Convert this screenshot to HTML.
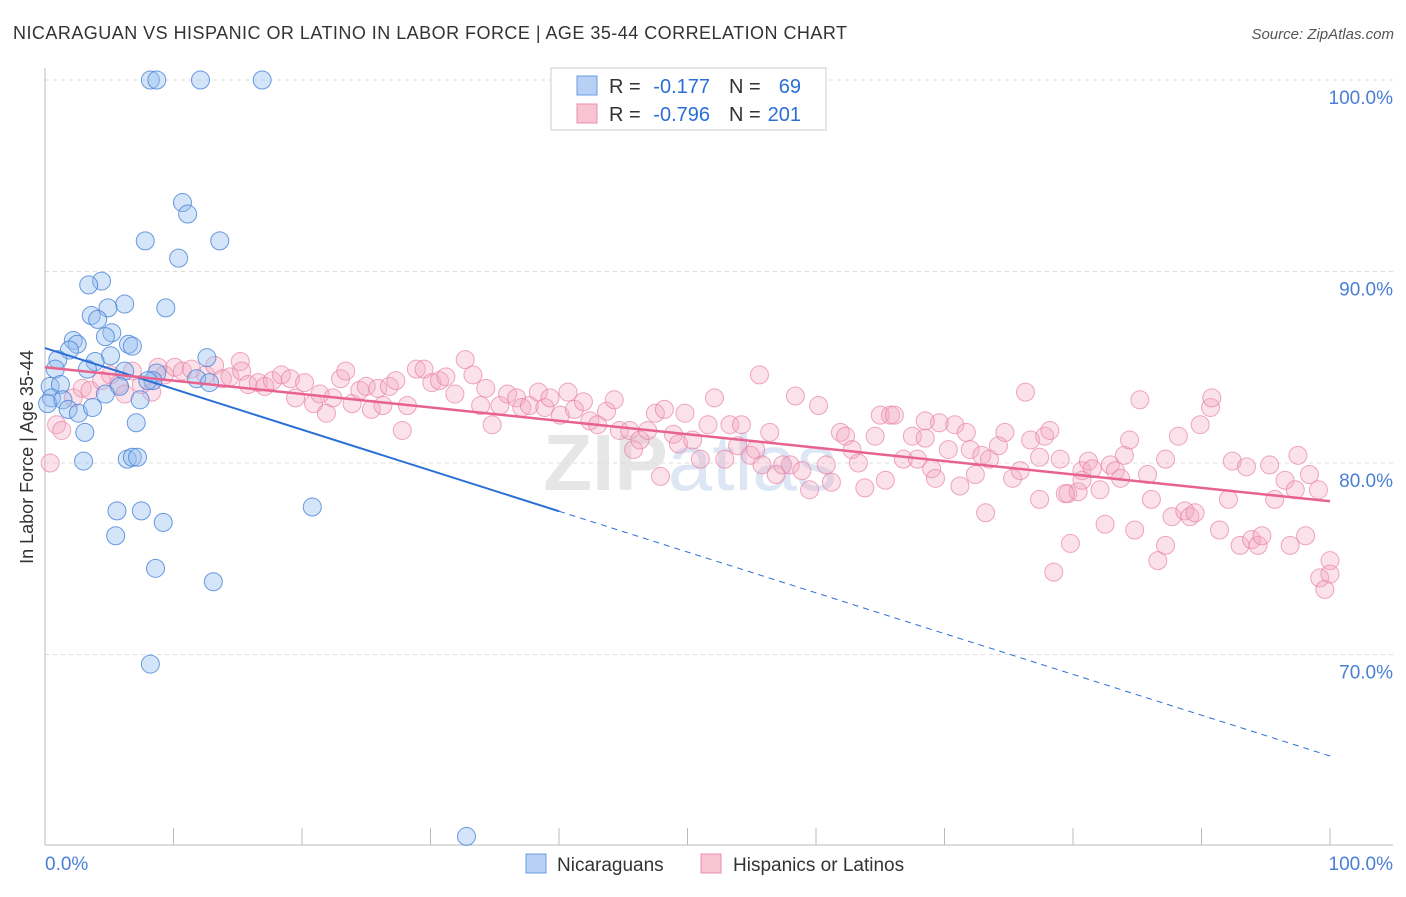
<!DOCTYPE html>
<html><head><meta charset="utf-8"><style>
body{margin:0;background:#fff;font-family:"Liberation Sans",sans-serif;}
svg text{font-family:"Liberation Sans",sans-serif;}
</style></head><body>
<svg id="chart" width="1406" height="892" xmlns="http://www.w3.org/2000/svg">
<text x="13" y="39" font-size="18" fill="#333" textLength="834" lengthAdjust="spacing">NICARAGUAN VS HISPANIC OR LATINO IN LABOR FORCE | AGE 35-44 CORRELATION CHART</text>
<text x="1394" y="39" font-size="15" fill="#555" text-anchor="end" font-style="italic">Source: ZipAtlas.com</text>
<text x="690" y="490" font-size="80" fill="#e6e6e6" text-anchor="middle" font-family="Liberation Serif" font-weight="bold">ZIP<tspan fill="#dce6f4" font-family="Liberation Sans" font-weight="normal">atlas</tspan></text>
<g id="grid"></g>
<g id="axes"></g>
<g id="pts"></g>
<g id="lines"></g>
<text transform="translate(33,457) rotate(-90)" font-size="18" fill="#333" text-anchor="middle">In Labor Force | Age 35-44</text>
<g>
<rect x="551" y="68" width="275" height="62" fill="#fff" stroke="#ccc"/>
<rect x="577" y="76" width="20" height="19" fill="#b7d0f3" stroke="#6b9be0"/>
<rect x="577" y="104" width="20" height="19" fill="#f8c3d3" stroke="#eb8fae"/>
<text x="609" y="93" font-size="20" fill="#333">R =</text>
<text x="710" y="93" font-size="20" fill="#2a6fd6" text-anchor="end">-0.177</text>
<text x="729" y="93" font-size="20" fill="#333">N =</text>
<text x="801" y="93" font-size="20" fill="#2a6fd6" text-anchor="end">69</text>
<text x="609" y="121" font-size="20" fill="#333">R =</text>
<text x="710" y="121" font-size="20" fill="#2a6fd6" text-anchor="end">-0.796</text>
<text x="729" y="121" font-size="20" fill="#333">N =</text>
<text x="801" y="121" font-size="20" fill="#2a6fd6" text-anchor="end">201</text>
</g>
<g>
<rect x="526" y="854" width="20" height="19" fill="#b7d0f3" stroke="#6b9be0"/>
<text x="557" y="871" font-size="19" fill="#333">Nicaraguans</text>
<rect x="701" y="854" width="20" height="19" fill="#f8c3d3" stroke="#eb8fae"/>
<text x="733" y="871" font-size="19" fill="#333">Hispanics or Latinos</text>
</g>
</svg>
<script>
const blueX=[8.2,8.7,12.1,16.9,10.7,11.1,7.8,13.6,10.4,4.4,3.4,6.2,4.9,9.4,3.6,4.1,5.2,4.7,6.5,6.8,2.2,2.5,1.9,1.0,5.1,3.9,12.6,0.8,3.3,6.2,8.7,8.4,11.8,12.8,0.4,1.2,5.8,8.0,4.7,7.4,0.5,0.2,1.4,1.8,2.6,3.7,7.1,3.1,6.4,6.8,7.2,3.0,20.8,5.6,7.5,9.2,5.5,8.6,13.1,8.2,32.8];
const blueY=[100,100,100,100,93.6,93.0,91.6,91.6,90.7,89.5,89.3,88.3,88.1,88.1,87.7,87.5,86.8,86.6,86.2,86.1,86.4,86.2,85.9,85.4,85.6,85.3,85.5,84.9,84.9,84.8,84.7,84.3,84.4,84.2,84.0,84.1,84.0,84.3,83.6,83.3,83.4,83.1,83.3,82.8,82.6,82.9,82.1,81.6,80.2,80.3,80.3,80.1,77.7,77.5,77.5,76.9,76.2,74.5,73.8,69.5,60.5];
const pinkX=[0.4,0.9,1.3,2.2,2.9,3.5,4.4,5.1,5.7,6.2,6.8,7.5,8.3,8.8,9.3,10.1,10.7,11.4,12.5,13.2,13.8,14.4,15.2,15.3,15.8,16.6,17.1,17.7,18.4,19.1,19.5,20.2,20.9,21.4,21.9,22.4,23.0,23.4,23.9,24.5,25.0,25.4,25.9,26.3,26.8,27.3,27.8,28.2,28.9,29.5,30.1,30.7,31.2,31.9,32.7,33.3,33.9,34.3,34.8,35.4,36.0,36.7,37.1,37.7,38.4,38.9,39.3,40.1,40.7,41.2,41.9,42.4,43.0,43.7,44.3,44.7,45.5,45.8,46.3,46.9,47.5,47.9,48.2,48.9,49.3,49.8,50.4,51.0,51.6,52.1,52.9,53.3,53.9,54.2,54.9,55.3,55.8,56.4,56.9,57.4,58.0,58.4,58.9,59.5,60.2,60.8,61.2,61.9,62.3,62.8,63.3,63.8,64.6,65.0,65.4,65.8,66.1,66.8,67.5,67.9,68.5,69.0,69.3,69.6,70.3,70.8,71.2,71.7,72.0,72.4,72.9,73.5,74.2,74.7,75.3,75.9,76.3,76.7,77.4,77.8,78.2,79.0,79.6,79.8,80.4,80.7,81.2,81.5,82.1,82.5,82.9,83.3,83.7,84.0,84.4,84.8,85.2,85.8,86.1,86.6,87.2,87.7,88.2,88.7,89.1,89.5,89.9,90.7,90.8,91.4,92.1,92.4,93.0,93.5,93.9,94.4,94.7,95.3,95.7,96.5,96.9,97.5,98.1,98.4,99.1,99.2,99.6,100.0,78.5,79.4,80.7,68.5,55.6,100.0,97.3,77.4,73.2,87.2];
const pinkY=[80.0,82.0,81.7,83.4,83.9,83.8,84.3,84.6,84.1,83.6,84.8,84.1,83.7,85.0,84.6,85.0,84.8,84.9,84.6,85.1,84.4,84.5,85.3,84.8,84.1,84.2,84.0,84.3,84.6,84.4,83.4,84.2,83.1,83.6,82.6,83.4,84.4,84.8,83.1,83.8,84.0,82.8,83.9,83.0,84.0,84.3,81.7,83.0,84.9,84.9,84.2,84.3,84.5,83.6,85.4,84.6,83.0,83.9,82.0,83.0,83.6,83.4,82.9,83.0,83.7,82.9,83.4,82.5,83.7,82.8,83.2,82.2,82.0,82.7,83.3,81.7,81.7,80.7,81.2,81.7,82.6,79.3,82.8,81.5,81.0,82.6,81.2,80.2,82.0,83.4,80.2,82.0,80.9,82.0,80.4,80.7,79.9,81.6,79.4,79.9,79.9,83.5,79.6,78.6,83.0,79.9,79.0,81.6,81.4,80.7,80.0,78.7,81.4,82.5,79.1,82.5,82.5,80.2,81.4,80.2,81.3,79.7,79.2,82.1,80.7,82.0,78.8,81.6,80.7,79.4,80.4,80.2,80.9,81.6,79.2,79.6,83.7,81.2,80.3,81.4,81.7,80.2,78.4,75.8,78.5,79.6,80.1,79.7,78.6,76.8,79.9,79.6,79.2,80.4,81.2,76.5,83.3,79.4,78.1,74.9,80.2,77.2,81.4,77.5,77.2,77.4,82.0,82.9,83.4,76.5,78.1,80.1,75.7,79.8,76.0,75.7,76.2,79.9,78.1,79.1,75.7,80.4,76.2,79.4,78.6,74.0,73.4,74.9,74.3,78.4,79.1,82.2,84.6,74.2,78.6,78.1,77.4,75.7];
const blueTrend=[86.0,64.7];   // y at x=0, y at x=100
const pinkTrend=[85.0,78.0];
const yTicks=[100,90,80,70];
const yTickLabels=["100.0%","90.0%","80.0%","70.0%"];

const NS="http://www.w3.org/2000/svg";
const X0=45,X1=1330,Y100=80,PPY=19.15;
const sx=v=>X0+(X1-X0)*v/100;
const sy=v=>Y100+(100-v)*PPY;
function mk(tag,attrs,parent){const e=document.createElementNS(NS,tag);for(const k in attrs)e.setAttribute(k,attrs[k]);parent.appendChild(e);return e;}
const grid=document.getElementById('grid'),axes=document.getElementById('axes'),pts=document.getElementById('pts'),lines=document.getElementById('lines');
yTicks.forEach((t,i)=>{
  const l=mk('line',{x1:X0,x2:1393,y1:sy(t),y2:sy(t),stroke:'#ddd','stroke-dasharray':'4,4'},grid);
  
  
  const tx=mk('text',{x:1393,y:sy(t)+24,'font-size':19,fill:'#4a7fd4','text-anchor':'end'},grid);
  tx.textContent=yTickLabels[i];
  
  
});
const ax=mk('line',{x1:X0,x2:1393,y1:845,y2:845,stroke:'#bbb'},axes);


const ay=mk('line',{x1:X0,x2:X0,y1:68,y2:845,stroke:'#bbb'},axes);


for(let i=0;i<=10;i++){
  const tk=mk('line',{x1:sx(i*10),x2:sx(i*10),y1:828,y2:845,stroke:'#bbb'},axes);
  
  
}
const xl0=mk('text',{x:45,y:870,'font-size':19,fill:'#4a7fd4'},axes);xl0.textContent='0.0%';


const xl1=mk('text',{x:1393,y:870,'font-size':19,fill:'#4a7fd4','text-anchor':'end'},axes);xl1.textContent='100.0%';


pinkX.forEach((v,i)=>{
  const c=mk('circle',{cx:sx(v),cy:sy(pinkY[i]),r:9,fill:'rgba(244,170,195,0.35)',stroke:'rgba(232,130,165,0.7)','stroke-width':1},pts);
  
  
});
blueX.forEach((v,i)=>{
  const c=mk('circle',{cx:sx(v),cy:sy(blueY[i]),r:9,fill:'rgba(150,190,240,0.4)',stroke:'rgba(70,130,215,0.8)','stroke-width':1},pts);
  
  
});
const bAt=x=>blueTrend[0]+(blueTrend[1]-blueTrend[0])*x/100;
const b1=mk('line',{x1:sx(0),y1:sy(bAt(0)),x2:sx(40),y2:sy(bAt(40)),stroke:'#2a6fd6','stroke-width':2},lines);


const b2=mk('line',{x1:sx(40),y1:sy(bAt(40)),x2:sx(100),y2:sy(bAt(100)),stroke:'#2a6fd6','stroke-width':1,'stroke-dasharray':'6,5'},lines);


const p1=mk('line',{x1:sx(0),y1:sy(pinkTrend[0]),x2:sx(100),y2:sy(pinkTrend[1]),stroke:'#e8628f','stroke-width':2.5},lines);


</script>
</body></html>
